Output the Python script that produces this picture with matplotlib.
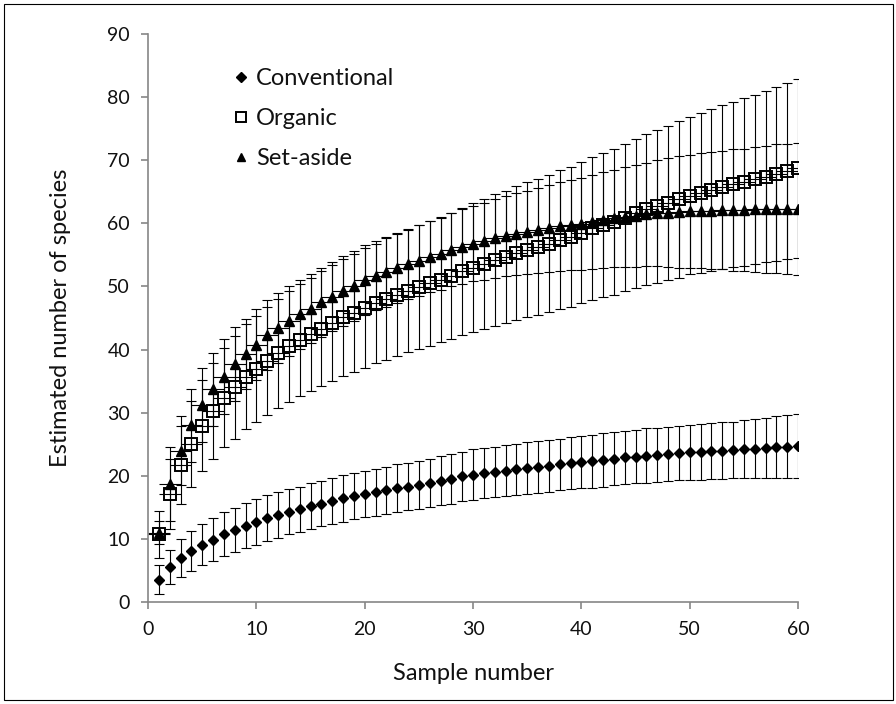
import matplotlib
matplotlib.use("Agg")
import matplotlib.pyplot as plt
from matplotlib.lines import Line2D
from matplotlib.patches import Rectangle

samples = list(range(1, 61))

conventional = [3.5, 5.5, 7.0, 8.1, 9.1, 9.9, 10.8, 11.4, 12.1, 12.7,
                13.3, 13.8, 14.3, 14.7, 15.2, 15.6, 16.0, 16.4, 16.8, 17.1,
                17.4, 17.7, 18.0, 18.3, 18.6, 18.9, 19.2, 19.5, 19.9, 20.2,
                20.4, 20.6, 20.8, 21.0, 21.2, 21.4, 21.6, 21.8, 22.0, 22.2,
                22.3, 22.5, 22.7, 22.9, 23.0, 23.2, 23.3, 23.5, 23.6, 23.7,
                23.8, 23.9, 24.0, 24.1, 24.2, 24.3, 24.4, 24.5, 24.6, 24.7]
conventional_err = [2.3, 2.7, 3.0, 3.2, 3.3, 3.4, 3.5, 3.5, 3.6, 3.6,
                    3.6, 3.6, 3.6, 3.6, 3.6, 3.6, 3.6, 3.7, 3.7, 3.7,
                    3.7, 3.7, 3.8, 3.8, 3.8, 3.8, 3.9, 3.9, 3.9, 4.0,
                    4.0, 4.0, 4.0, 4.0, 4.1, 4.1, 4.1, 4.1, 4.1, 4.1,
                    4.2, 4.2, 4.2, 4.2, 4.2, 4.3, 4.3, 4.3, 4.3, 4.4,
                    4.4, 4.4, 4.5, 4.5, 4.6, 4.7, 4.8, 4.9, 5.0, 5.1]

organic = [10.7, 17.1, 21.7, 25.1, 27.9, 30.3, 32.4, 34.0, 35.7, 36.9,
           38.2, 39.4, 40.5, 41.5, 42.4, 43.3, 44.2, 45.1, 45.8, 46.6,
           47.3, 48.0, 48.6, 49.3, 49.9, 50.5, 51.1, 51.7, 52.4, 53.0,
           53.6, 54.2, 54.7, 55.3, 55.8, 56.3, 56.8, 57.4, 57.9, 58.5,
           59.2, 59.7, 60.2, 60.9, 61.6, 62.2, 62.7, 63.3, 63.8, 64.4,
           64.8, 65.3, 65.7, 66.2, 66.6, 67.0, 67.4, 67.8, 68.3, 68.7]
organic_err = [3.7, 5.5, 6.2, 6.8, 7.2, 7.6, 7.9, 8.1, 8.3, 8.4,
               8.5, 8.6, 8.8, 8.9, 9.0, 9.1, 9.2, 9.3, 9.4, 9.5,
               9.5, 9.6, 9.7, 9.75, 9.8, 9.9, 9.95, 10.0, 10.1, 10.2,
               10.3, 10.4, 10.5, 10.6, 10.7, 10.8, 10.9, 11.0, 11.1, 11.2,
               11.3, 11.4, 11.5, 11.6, 11.8, 11.9, 12.1, 12.2, 12.4, 12.5,
               12.7, 12.8, 13.0, 13.1, 13.3, 13.4, 13.6, 13.8, 14.0, 14.2]

set_aside = [11.0, 18.7, 24.0, 28.0, 31.2, 33.7, 35.7, 37.7, 39.3, 40.8,
             42.3, 43.4, 44.5, 45.6, 46.5, 47.5, 48.4, 49.3, 50.1, 51.0,
             51.7, 52.3, 52.9, 53.5, 54.1, 54.7, 55.2, 55.8, 56.3, 56.8,
             57.2, 57.6, 58.0, 58.3, 58.6, 58.9, 59.2, 59.5, 59.7, 59.9,
             60.2, 60.5, 60.8, 61.0, 61.2, 61.4, 61.6, 61.7, 61.8, 61.9,
             62.0, 62.0, 62.1, 62.1, 62.1, 62.2, 62.2, 62.3, 62.3, 62.3]
set_aside_err = [1.8, 5.9, 5.5, 5.8, 5.8, 5.8, 5.9, 5.8, 5.6, 5.6,
                 5.5, 5.5, 5.5, 5.5, 5.5, 5.5, 5.5, 5.5, 5.5, 5.5,
                 5.5, 5.5, 5.5, 5.5, 5.6, 5.6, 5.7, 5.8, 5.9, 6.0,
                 6.1, 6.2, 6.3, 6.5, 6.6, 6.7, 6.9, 7.0, 7.1, 7.3,
                 7.4, 7.6, 7.7, 7.9, 8.1, 8.2, 8.4, 8.6, 8.8, 9.0,
                 9.1, 9.3, 9.4, 9.6, 9.7, 9.9, 10.0, 10.2, 10.3, 10.5]

x_err = 1.0

plt.rcParams['font.family'] = ['Lato', 'DejaVu Sans']

fig = plt.figure(figsize=(8.96, 7.04), dpi=100)
ax = fig.add_axes([148 / 896, 102 / 704, 650 / 896, 568 / 704])

eb = dict(fmt='none', ecolor='black', elinewidth=0.8, capsize=3.9, capthick=0.8)

# y error bars
ax.errorbar(samples, organic, yerr=organic_err, **eb)
ax.errorbar(samples, set_aside, yerr=set_aside_err, **eb)
ax.errorbar(samples, conventional, yerr=conventional_err, **eb)
# horizontal bars on organic and set-aside
ax.errorbar(samples, organic, xerr=x_err, fmt='none', ecolor='black', elinewidth=0.8, capsize=0)
ax.errorbar(samples, set_aside, xerr=x_err, fmt='none', ecolor='black', elinewidth=0.8, capsize=0)

ax.plot(samples, conventional, 'D', color='black', markersize=5.5, linestyle='none')
ax.plot(samples, organic, 's', markerfacecolor='none', markeredgecolor='black',
        markeredgewidth=1.4, markersize=8, linestyle='none')
ax.plot(samples, set_aside, '^', color='black', markersize=6.5, linestyle='none')

ax.set_xlim(0, 60)
ax.set_ylim(0, 90)
ax.set_xticks(range(0, 61, 10))
ax.set_yticks(range(0, 91, 10))

for side in ['top', 'right']:
    ax.spines[side].set_visible(False)
for side in ['left', 'bottom']:
    ax.spines[side].set_color('#868686')
    ax.spines[side].set_linewidth(1.2)
ax.tick_params(axis='both', colors='#868686', labelcolor='#111111', labelsize=14,
               length=5, width=1.2, direction='out')
ax.tick_params(axis='y', pad=8)
ax.tick_params(axis='x', pad=9)

ax.set_xlabel('Sample number', fontsize=17, labelpad=18, color='#111111')
ax.set_ylabel('Estimated number of species', fontsize=17, labelpad=26, color='#111111')

handles = [
    Line2D([], [], marker='D', color='black', linestyle='none', markersize=5),
    Line2D([], [], marker='s', markerfacecolor='none', markeredgecolor='black',
           markeredgewidth=1.4, linestyle='none', markersize=7),
    Line2D([], [], marker='^', color='black', linestyle='none', markersize=6),
]
leg = ax.legend(handles, ['Conventional', 'Organic', 'Set-aside'], loc='upper left',
                bbox_to_anchor=(0.096, 0.977), frameon=False, fontsize=17,
                handlelength=0.8, handletextpad=0.23, labelspacing=0.8)
for t in leg.get_texts():
    t.set_color('#111111')

fig.patches.append(Rectangle((4 / 896, 4 / 704), 889 / 896, 696 / 704,
                             transform=fig.transFigure, fill=False,
                             edgecolor='black', linewidth=0.8))

plt.savefig('out.png', dpi=100)
